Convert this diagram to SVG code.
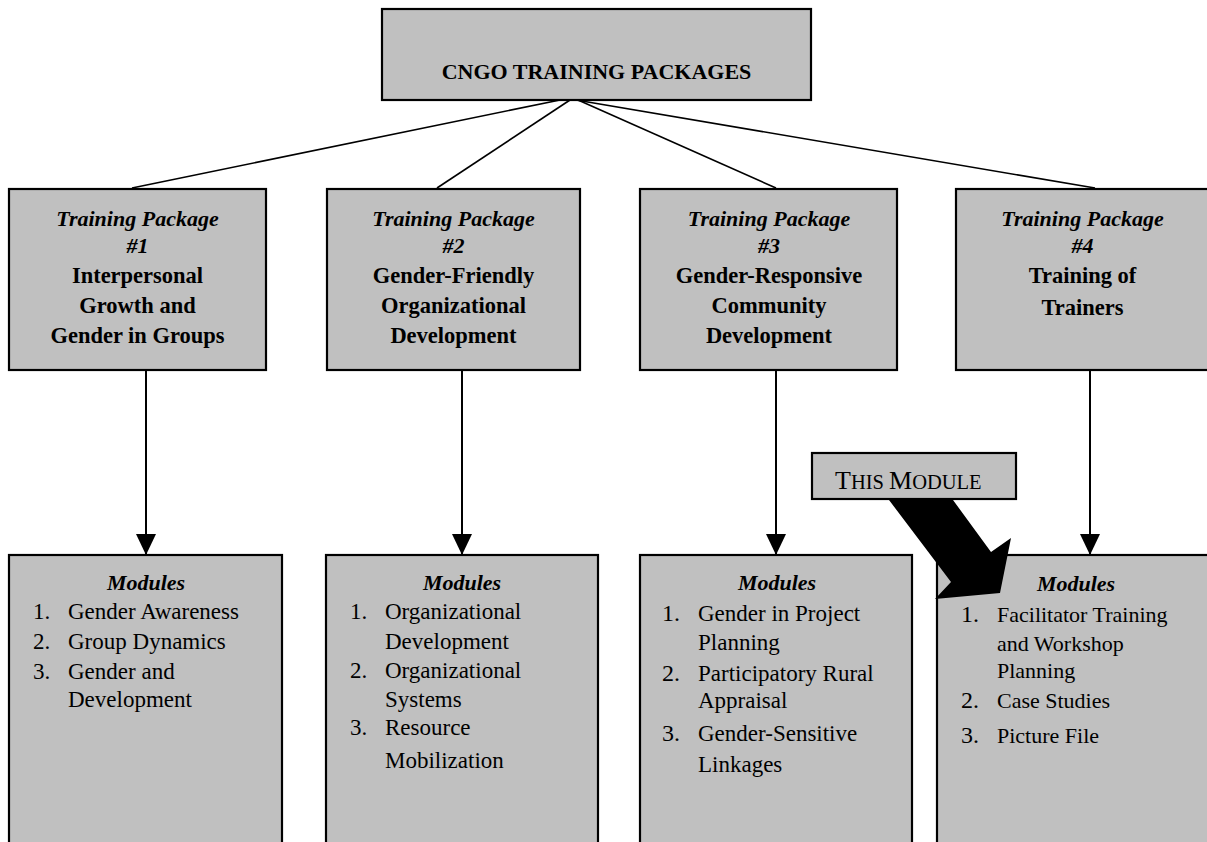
<svg xmlns="http://www.w3.org/2000/svg" width="1207" height="842" viewBox="0 0 1207 842">
  <defs>
    <style>
      .box { fill: #c0c0c0; stroke: #000; stroke-width: 2.2; }
      .t { font-family: "Liberation Serif", "Times New Roman", serif; font-size: 23px; fill: #000; }
      .h { font-size: 22px; }
      .bi { font-weight: bold; font-style: italic; font-size: 22px; }
      .b { font-weight: bold; font-size: 22.5px; }
      .c { text-anchor: middle; }
      .line { stroke: #000; stroke-width: 1.6; fill: none; }
      .vline { stroke: #000; stroke-width: 2; fill: none; }
      .num { font-size: 24px; }
      .s22 { font-size: 22px; }
    </style>
    <marker id="arr" markerUnits="userSpaceOnUse" markerWidth="22" markerHeight="20" viewBox="0 0 22 20" refX="21" refY="10" orient="auto">
      <path d="M0,0 L21,10 L0,20 Z" fill="#000"/>
    </marker>
  </defs>

  <rect width="1207" height="842" fill="#fff"/>

  <g id="connectors">
    <line class="line" x1="560" y1="100" x2="132" y2="188"/>
    <line class="line" x1="570" y1="100" x2="437" y2="188"/>
    <line class="line" x1="578" y1="100" x2="776" y2="188"/>
    <line class="line" x1="576" y1="100" x2="1095" y2="188"/>
    <line class="vline" x1="146" y1="370" x2="146" y2="555" marker-end="url(#arr)"/>
    <line class="vline" x1="462" y1="370" x2="462" y2="555" marker-end="url(#arr)"/>
    <line class="vline" x1="776" y1="370" x2="776" y2="555" marker-end="url(#arr)"/>
    <line class="vline" x1="1090" y1="370" x2="1090" y2="555" marker-end="url(#arr)"/>
  </g>

  <g id="root">
    <rect class="box" x="382" y="9" width="429" height="91"/>
    <text class="t b c" x="596.5" y="79" style="font-size:22px">CNGO TRAINING PACKAGES</text>
  </g>

  <g id="pkg1">
    <rect class="box" x="9" y="189" width="257" height="181"/>
    <text class="t bi c" x="137.5" y="226">Training Package</text>
    <text class="t bi c" x="137.5" y="253">#1</text>
    <text class="t b c" x="137.5" y="283">Interpersonal</text>
    <text class="t b c" x="137.5" y="313">Growth and</text>
    <text class="t b c" x="137.5" y="343">Gender in Groups</text>
  </g>

  <g id="pkg2">
    <rect class="box" x="327" y="189" width="253" height="181"/>
    <text class="t bi c" x="453.5" y="226">Training Package</text>
    <text class="t bi c" x="453.5" y="253">#2</text>
    <text class="t b c" x="453.5" y="283">Gender-Friendly</text>
    <text class="t b c" x="453.5" y="313">Organizational</text>
    <text class="t b c" x="453.5" y="343">Development</text>
  </g>

  <g id="pkg3">
    <rect class="box" x="640" y="189" width="257" height="181"/>
    <text class="t bi c" x="769" y="226">Training Package</text>
    <text class="t bi c" x="769" y="253">#3</text>
    <text class="t b c" x="769" y="283">Gender-Responsive</text>
    <text class="t b c" x="769" y="313">Community</text>
    <text class="t b c" x="769" y="343">Development</text>
  </g>

  <g id="pkg4">
    <rect class="box" x="956" y="189" width="258" height="181"/>
    <text class="t bi c" x="1082.5" y="226">Training Package</text>
    <text class="t bi c" x="1082.5" y="253">#4</text>
    <text class="t b c" x="1082.5" y="283">Training of</text>
    <text class="t b c" x="1082.5" y="315">Trainers</text>
  </g>

  <g id="mod1">
    <rect class="box" x="9" y="555" width="273" height="300"/>
    <text class="t bi c" x="146" y="590">Modules</text>
    <text class="t" x="33" y="619">1.</text>
    <text class="t" x="68" y="619">Gender Awareness</text>
    <text class="t" x="33" y="649">2.</text>
    <text class="t" x="68" y="649">Group Dynamics</text>
    <text class="t" x="33" y="679">3.</text>
    <text class="t" x="68" y="679">Gender and</text>
    <text class="t" x="68" y="707">Development</text>
  </g>

  <g id="mod2">
    <rect class="box" x="326" y="555" width="272" height="300"/>
    <text class="t bi c" x="462" y="590">Modules</text>
    <text class="t" x="350" y="619">1.</text>
    <text class="t" x="385" y="619">Organizational</text>
    <text class="t" x="385" y="649">Development</text>
    <text class="t" x="350" y="678">2.</text>
    <text class="t" x="385" y="678">Organizational</text>
    <text class="t" x="385" y="707">Systems</text>
    <text class="t" x="350" y="735">3.</text>
    <text class="t" x="385" y="735">Resource</text>
    <text class="t" x="385" y="768">Mobilization</text>
  </g>

  <g id="mod3">
    <rect class="box" x="640" y="555" width="272" height="300"/>
    <text class="t bi c" x="777" y="590">Modules</text>
    <text class="t num" x="662" y="621">1.</text>
    <text class="t" x="698" y="621">Gender in Project</text>
    <text class="t" x="698" y="650">Planning</text>
    <text class="t num" x="662" y="681">2.</text>
    <text class="t" x="698" y="681">Participatory Rural</text>
    <text class="t" x="698" y="708">Appraisal</text>
    <text class="t num" x="662" y="741">3.</text>
    <text class="t" x="698" y="741">Gender-Sensitive</text>
    <text class="t" x="698" y="772">Linkages</text>
  </g>

  <g id="mod4">
    <rect class="box" x="937" y="555" width="280" height="300"/>
    <text class="t bi c" x="1076" y="591">Modules</text>
    <text class="t num" x="961" y="622">1.</text>
    <text class="t s22" x="997" y="622">Facilitator Training</text>
    <text class="t s22" x="997" y="651">and Workshop</text>
    <text class="t s22" x="997" y="678">Planning</text>
    <text class="t num" x="961" y="708">2.</text>
    <text class="t s22" x="997" y="708">Case Studies</text>
    <text class="t num" x="961" y="743">3.</text>
    <text class="t s22" x="997" y="743">Picture File</text>
  </g>

  <g id="this-module">
    <polygon points="889,500 953,500 991,552 1011,538 1000,593 935,599 951,582" fill="#000"/>
    <rect class="box" x="812" y="453" width="204" height="46"/>
    <text class="t" x="835" y="489"><tspan font-size="26">T</tspan><tspan font-size="20.5">HIS </tspan><tspan font-size="26">M</tspan><tspan font-size="20.5">ODULE</tspan></text>
  </g>
</svg>
